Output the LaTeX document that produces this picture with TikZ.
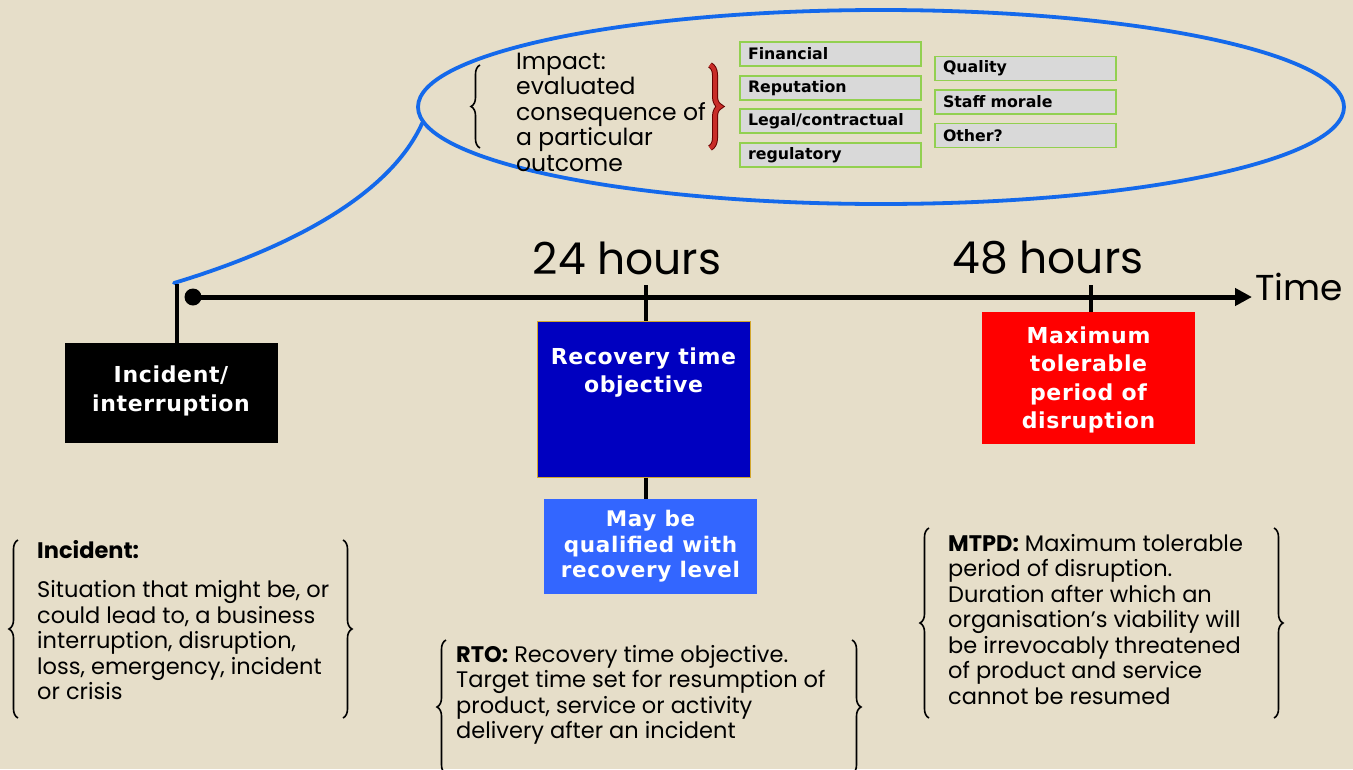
\documentclass[tikz,border=0pt]{standalone}
\usepackage{fontspec}
\setmainfont{Liberation Sans}
\newfontfamily\gothic{Poppins}
\newfontfamily\boxfont[LetterSpace=3]{DejaVu Sans}
\newfontfamily\tagfont{DejaVu Sans}
\usetikzlibrary{decorations.pathreplacing,arrows.meta,shapes.geometric}
\definecolor{bg}{RGB}{230,222,201}
\definecolor{ellblue}{RGB}{20,105,235}
\definecolor{rtoblue}{RGB}{0,0,192}
\definecolor{lightblue}{RGB}{51,102,255}
\definecolor{tagfill}{RGB}{217,217,217}
\definecolor{taggreen}{RGB}{146,208,80}
\definecolor{bracered}{RGB}{200,45,40}
\tikzset{
  tag/.style={draw=taggreen, fill=tagfill, line width=1.5pt, minimum width=181pt, minimum height=24pt,
    text width=165pt, align=left, inner xsep=8pt, inner ysep=0pt, font=\tagfont\fontsize{15.8}{17}\selectfont\bfseries},
  bigbox/.style={minimum width=213pt, text=white, align=center, inner sep=0pt,
    font=\boxfont\fontsize{22}{28.5}\selectfont\bfseries},
  bodytext/.style={align=left, inner sep=0pt, font=\gothic\fontsize{22.5}{25.5}\selectfont},
  brc/.style={decorate, decoration={brace, amplitude=9pt}, line width=1.6pt},
  hours/.style={inner sep=0pt, font=\gothic\fontsize{44}{50}\selectfont},
  tick/.style={line width=4pt},
}
\begin{document}
\begin{tikzpicture}[x=1pt,y=-1pt]
\fill[bg] (0,0) rectangle (1353,769);
\useasboundingbox (0,0) rectangle (1353,769);

% ellipse with impact
\node[ellipse, draw=ellblue, line width=3.8pt, minimum width=926pt, minimum height=194pt] (ell) at (881,107) {};
\node[bodytext, anchor=west, font=\gothic\fontsize{23.5}{25.5}\selectfont] (impact) at (516,112)
  {Impact:\\evaluated\\consequence of\\a particular\\outcome};
\coordinate (ib1) at (480,148); \coordinate (ib2) at (480,65);
\draw[brc] (ib1) -- (ib2);
\coordinate (rb1) at (710,65); \coordinate (rb2) at (710,148);
\draw[decorate, decoration={brace, amplitude=10pt}, line width=6pt, black!60!red] (rb1) -- (rb2);
\draw[decorate, decoration={brace, amplitude=10pt}, line width=4pt, bracered] (rb1) -- (rb2);

\node[tag] (fin) at (830.5,54) {Financial};
\node[tag] (rep) at (830.5,88) {Reputation};
\node[tag] (leg) at (830.5,121) {Legal/contractual};
\node[tag] (reg) at (830.5,155) {regulatory};
\node[tag] (qua) at (1025.5,68.5) {Quality};
\node[tag] (sta) at (1025.5,102) {Staff morale};
\node[tag] (oth) at (1025.5,135.5) {Other?};

% timeline
\coordinate (cstart) at (174,283);
\draw[ellblue, line width=3.8pt, line cap=round] (cstart) .. controls (290,248) and (390,195) .. (ell.182);
\coordinate (t0) at (193,297);
\coordinate (tend) at (1252,297);
\draw[line width=5pt, -{Triangle[length=17pt,width=17pt]}] (t0) -- (tend);
\fill (t0) circle (8.5pt);
\node[anchor=west, inner sep=0pt, font=\gothic\fontsize{36}{40}\selectfont] (time) at (1255,287) {Time};

\node[hours] (h24) at (627,258) {24 hours};
\node[hours] (h48) at (1048,258) {48 hours};

% boxes
\node[bigbox, fill=black, minimum height=100pt] (inc) at (171,393) {};
\node[bigbox] (inct) at ([yshift=2pt]inc.center) {Incident/\\interruption};
\node[bigbox, fill=rtoblue, draw=brown!70!yellow, line width=1pt, minimum height=156pt] (rto) at (643.5,399) {};
\node[bigbox, anchor=north] (rtot) at ([yshift=-27pt]rto.north) {Recovery time\\objective};
\node[bigbox, fill=lightblue, minimum height=95pt, font=\boxfont\fontsize{21.5}{25.5}\selectfont\bfseries] (may) at (650.5,546.5) {May be\\qualified with\\recovery level};
\node[bigbox, fill=red, minimum height=132pt] (mtpd) at (1088.5,378) {};
\node[bigbox] (mtpdt) at ([yshift=-2pt]mtpd.center) {Maximum\\tolerable\\period of\\disruption};

% ticks
\coordinate (a0) at (177,284);
\coordinate (a24) at (646,285);
\coordinate (a48) at (1091,285);
\draw[tick] (a0) -- (a0 |- inc.north);
\draw[tick] (a24) -- (a24 |- rto.north);
\draw[tick] (rto.south -| a24) -- (may.north -| a24);
\draw[tick] (a48) -- (a48 |- mtpd.north);

% definition blocks
\node[bodytext, anchor=north west] (incdef) at (37,540)
  {{\bfseries Incident:}\\[14pt]Situation that might be, or\\could lead to, a business\\interruption, disruption,\\loss, emergency, incident\\or crisis};
\draw[brc] (18,718) -- (18,540);
\draw[brc] (343,540) -- (343,718);

\node[bodytext, anchor=north west] (rtodef) at (456,645)
  {{\bfseries RTO:} Recovery time objective.\\Target time set for resumption of\\product, service or activity\\delivery after an incident};
\draw[brc] (446,774) -- (446,640);
\draw[brc] (852,640) -- (852,774);

\node[bodytext, anchor=north west] (mtpddef) at (948,534)
  {{\bfseries MTPD:} Maximum tolerable\\period of disruption.\\Duration after which an\\organisation’s viability will\\be irrevocably threatened\\of product and service\\cannot be resumed};
\draw[brc] (929,718) -- (929,528);
\draw[brc] (1274,528) -- (1274,718);
\end{tikzpicture}
\end{document}
